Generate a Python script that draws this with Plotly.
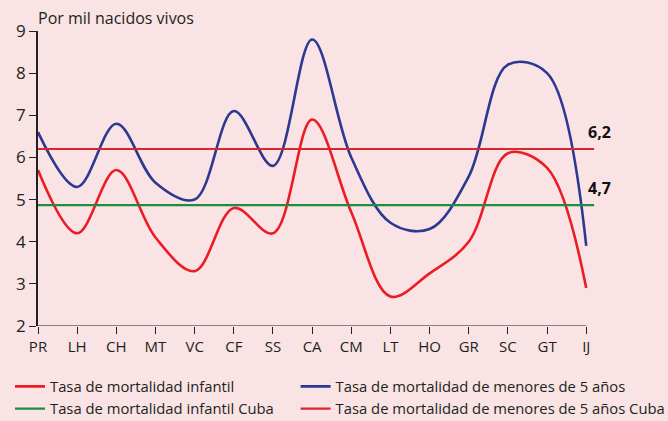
import plotly.graph_objects as go

categories = ["PR", "LH", "CH", "MT", "VC", "CF", "SS", "CA", "CM", "LT", "HO", "GR", "SC", "GT", "IJ"]
infantil = [5.7, 4.2, 5.7, 4.1, 3.3, 4.8, 4.2, 6.9, 4.7, 2.7, 3.25, 4.0, 6.1, 5.75, 2.9]
menores5 = [6.6, 5.3, 6.8, 5.4, 5.0, 7.1, 5.8, 8.8, 6.0, 4.45, 4.3, 5.55, 8.2, 8.0, 3.9]
infantil_cuba = 4.87
menores5_cuba = 6.2
label_infantil_cuba = "4,7"
label_menores5_cuba = "6,2"
y_ticks = [2, 3, 4, 5, 6, 7, 8, 9]

xpos = list(range(len(categories)))
x_end = len(categories) - 1 + 0.2

txt = "#231f20"
font = "'Open Sans', sans-serif"

fig = go.Figure()
fig.add_trace(go.Scatter(x=xpos, y=infantil, mode="lines", name="Tasa de mortalidad infantil",
                         legend="legend",
                         line=dict(color="#ed1c24", width=2.6, shape="spline", smoothing=1.0)))
fig.add_trace(go.Scatter(x=xpos, y=menores5, mode="lines", name="Tasa de mortalidad de menores de 5 años",
                         legend="legend2",
                         line=dict(color="#2b3990", width=2.6, shape="spline", smoothing=1.0)))
fig.add_trace(go.Scatter(x=[0, x_end], y=[infantil_cuba, infantil_cuba], mode="lines",
                         name="Tasa de mortalidad infantil Cuba", legend="legend",
                         line=dict(color="#1e8e3e", width=2.2), cliponaxis=False))
fig.add_trace(go.Scatter(x=[0, x_end], y=[menores5_cuba, menores5_cuba], mode="lines",
                         name="Tasa de mortalidad de menores de 5 años Cuba", legend="legend2",
                         line=dict(color="#d7282f", width=2.2), cliponaxis=False))

# x axis baseline (ends at last category)
fig.add_shape(type="line", xref="x", yref="y", x0=0, x1=len(categories) - 1, y0=2, y1=2,
              line=dict(color=txt, width=1.2), layer="above")

fig.add_annotation(x=x_end, y=menores5_cuba, text="<b>" + label_menores5_cuba + "</b>", showarrow=False,
                   xanchor="left", yanchor="bottom", xshift=-8, yshift=4,
                   font=dict(size=16, color="#111111", family=font))
fig.add_annotation(x=x_end, y=infantil_cuba, text="<b>" + label_infantil_cuba + "</b>", showarrow=False,
                   xanchor="left", yanchor="bottom", xshift=-8, yshift=4,
                   font=dict(size=16, color="#111111", family=font))
fig.add_annotation(x=0, y=9, xref="x", yref="y", text="Por mil nacidos vivos", showarrow=False,
                   xanchor="left", yanchor="bottom", xshift=-2, yshift=0,
                   font=dict(size=16, color=txt, family=font))

fig.update_xaxes(range=[0, len(categories) - 1 + 0.3], tickvals=xpos, ticktext=categories,
                 ticks="outside", ticklen=7, tickcolor=txt, tickwidth=1.2,
                 showline=False, showgrid=False, zeroline=False, automargin=False,
                 tickfont=dict(size=15, color=txt, family=font))
fig.update_yaxes(range=[2, 9], tickvals=y_ticks, ticks="outside", ticklen=7, tickcolor=txt, tickwidth=1.2,
                 showline=True, linecolor=txt, linewidth=1.5, showgrid=False, zeroline=False, automargin=False,
                 tickfont=dict(size=17, color=txt, family=font))

legend_style = dict(orientation="v", yanchor="top", bgcolor="rgba(0,0,0,0)",
                    font=dict(size=14.8, color=txt, family=font), tracegroupgap=0, itemwidth=30)
fig.update_layout(
    width=668, height=421,
    margin=dict(l=38, r=70, t=31, b=95, autoexpand=False),
    paper_bgcolor="#f9e3e4", plot_bgcolor="#f9e3e4",
    showlegend=True,
    legend=dict(x=-0.05, y=-0.15, xanchor="left", **legend_style),
    legend2=dict(x=0.46, y=-0.15, xanchor="left", **legend_style),
)

fig.write_html("out.html", config={"displayModeBar": False},
               post_script="document.body.style.margin='0';")
